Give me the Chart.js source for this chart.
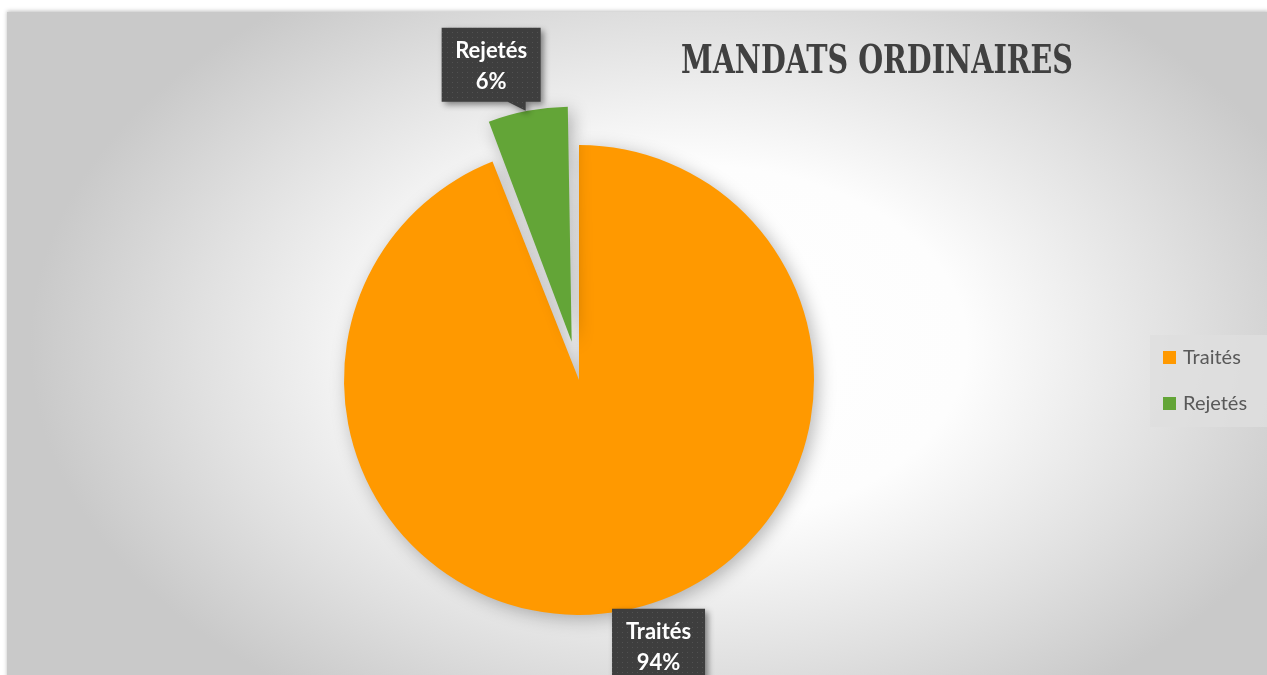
<!DOCTYPE html>
<html lang="fr">
<head>
<meta charset="utf-8">
<title>Mandats ordinaires</title>
<script src="https://cdn.jsdelivr.net/npm/chart.js@4"></script>
<style>
  html, body { margin:0; padding:0; background:#fff; }
  #wrap { width:1267px; height:675px; position:relative; overflow:hidden; }
</style>
</head>
<body>
<div id="wrap"><canvas id="pie" width="1267" height="675"></canvas></div>
<script>
/* ────────────────────────────────────────
   DATA
──────────────────────────────────────── */
const labels   = ['Traités', 'Rejetés'];
const values   = [94, 6];
const percents = ['94%', '6%'];
const title    = 'MANDATS ORDINAIRES';

const colors   = ['#FF9900', '#63A537'];
const explode  = [0, 156];   // chart.js moves the slice by offset/4

/* ────────────────────────────────────────
   HELPERS
──────────────────────────────────────── */
function dotPattern(ctx) {
  const c = document.createElement('canvas');
  c.width = 5; c.height = 5;
  const g = c.getContext('2d');
  g.fillStyle = '#3e3e3e'; g.fillRect(0, 0, 5, 5);
  g.fillStyle = '#525252'; g.fillRect(2, 2, 1, 1);
  return ctx.createPattern(c, 'repeat');
}

// chart.js also grows an offset arc's radius by (offset/4)*fix; undo that
const radiusFix = el => (el.options.offset || 0) / 4 *
  (1 - Math.sin(Math.min(Math.PI, el.circumference || 0)));

function arcAnchor(el, baseR) {
  const mid = (el.startAngle + el.endAngle) / 2;
  const shift = (el.options.offset || 0) / 4;
  return {
    x: el.x + Math.cos(mid) * (baseR + shift),
    y: el.y + Math.sin(mid) * (baseR + shift),
    up: Math.sin(mid) < 0,
  };
}

/* ────────────────────────────────────────
   PLUGIN: background, title, legend, callouts
──────────────────────────────────────── */
const decor = {
  id: 'decor',
  beforeDraw(chart) {
    const { ctx } = chart;
    ctx.save();
    ctx.fillStyle = '#fff';
    ctx.fillRect(0, 0, 1267, 675);

    ctx.shadowColor = 'rgba(0,0,0,0.25)';
    ctx.shadowBlur = 4;
    ctx.shadowOffsetY = -1;
    ctx.fillStyle = '#cccccc';
    ctx.fillRect(7, 12, 1262, 670);
    ctx.shadowColor = 'transparent';

    ctx.beginPath();
    ctx.rect(7, 12, 1262, 670);
    ctx.clip();
    ctx.translate(690, 345);
    ctx.scale(1, 0.65);
    const g = ctx.createRadialGradient(0, 0, 0, 0, 0, 660);
    g.addColorStop(0,    '#ffffff');
    g.addColorStop(0.42, '#fdfdfd');
    g.addColorStop(0.75, '#e0e0e0');
    g.addColorStop(1,    '#c9c9c9');
    ctx.fillStyle = g;
    ctx.fillRect(-700, -560, 1300, 1120);
    ctx.restore();

    // title
    ctx.save();
    ctx.font = 'bold 39px "DejaVu Serif Condensed", "DejaVu Serif", serif';
    const w = ctx.measureText(title).width;
    ctx.translate(877, 73);
    ctx.scale(392 / w, 1);
    ctx.fillStyle = '#404040';
    ctx.textAlign = 'center';
    ctx.fillText(title, 0, 0);
    ctx.restore();

    // legend
    ctx.save();
    ctx.fillStyle = 'rgba(222,222,222,0.8)';
    ctx.fillRect(1150, 335, 117, 92);
    ctx.font = '20px Lato, "Open Sans", sans-serif';
    ctx.textBaseline = 'middle';
    labels.forEach((lab, i) => {
      const y = 358 + i * 46;
      ctx.fillStyle = colors[i];
      ctx.fillRect(1163, y - 7, 13, 13);
      ctx.fillStyle = '#595959';
      ctx.fillText(lab, 1183, y);
    });
    ctx.restore();
  },

  beforeDatasetsDraw(chart) {
    const meta = chart.getDatasetMeta(0);
    meta.data.forEach(el => {
      el._baseR = el._baseR || el.outerRadius;
      el.outerRadius = el._baseR - radiusFix(el);
    });
    const { ctx } = chart;
    ctx.save();
    ctx.shadowColor = 'rgba(0,0,0,0.28)';
    ctx.shadowBlur = 18;
    ctx.shadowOffsetX = 4;
    ctx.shadowOffsetY = 4;
  },

  afterDatasetsDraw(chart) {
    const { ctx } = chart;
    ctx.restore();
    const meta = chart.getDatasetMeta(0);
    const pat  = dotPattern(ctx);

    meta.data.forEach((el, i) => {
      const a = arcAnchor(el, el._baseR);
      el.outerRadius = el._baseR;
      let bx, by, bw = 99, bh = 74, ptr;
      if (a.up) {
        bx = a.x - 86; by = a.y - 83;
        ptr = [[bx + 66, by + bh], [bx + 84, by + bh], [a.x - 2, a.y]];
      } else {
        bw = 93; bh = 80;
        bx = a.x - 11; by = a.y - 2;
        ptr = [[bx, by + 14], [bx, by], [bx + 12, by]];
      }

      ctx.save();
      ctx.shadowColor = 'rgba(0,0,0,0.45)';
      ctx.shadowBlur = 6;
      ctx.shadowOffsetX = 3;
      ctx.shadowOffsetY = 3;
      ctx.fillStyle = pat;
      ctx.beginPath();
      ctx.rect(bx, by, bw, bh);
      ctx.moveTo(ptr[0][0], ptr[0][1]);
      ctx.lineTo(ptr[1][0], ptr[1][1]);
      ctx.lineTo(ptr[2][0], ptr[2][1]);
      ctx.closePath();
      ctx.fill();
      ctx.restore();

      ctx.save();
      ctx.fillStyle = '#ffffff';
      ctx.font = 'bold 22px Lato, "Open Sans", sans-serif';
      ctx.textAlign = 'center';
      ctx.textBaseline = 'middle';
      ctx.fillText(labels[i], bx + bw / 2, by + 23);
      ctx.fillText(percents[i], bx + bw / 2, by + 54);
      ctx.restore();
    });
  },
};

/* ────────────────────────────────────────
   CHART
──────────────────────────────────────── */
new Chart(document.getElementById('pie'), {
  type: 'pie',
  data: {
    labels,
    datasets: [{
      data: values,
      backgroundColor: colors,
      borderWidth: 0,
      offset: explode,
    }],
  },
  options: {
    responsive: false,
    animation: false,
    radius: 235,
    layout: { padding: { left: 0, right: 109, top: 85, bottom: 0 } },
    plugins: {
      legend:  { display: false },
      tooltip: { enabled: false },
    },
  },
  plugins: [decor],
});
</script>
</body>
</html>
